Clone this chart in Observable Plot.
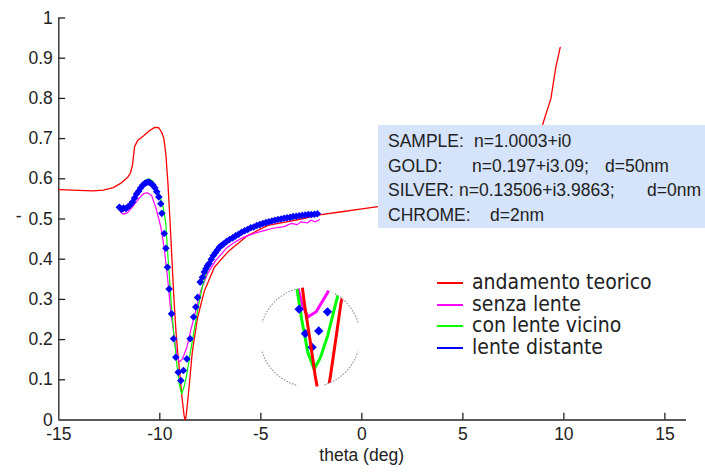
<!DOCTYPE html>
<html>
<head>
<meta charset="utf-8">
<script src="https://cdn.jsdelivr.net/npm/d3@7"></script>
<script src="https://cdn.jsdelivr.net/npm/@observablehq/plot@0.6"></script>
<style>
  body { margin: 0; background: #fff; }
  #wrap { position: relative; width: 705px; height: 474px; overflow: hidden;
          font-family: "Liberation Sans", Arial, sans-serif; color: #222; }
  #inset { position: absolute; left: 260px; top: 287px; width: 100px; height: 100px;
           clip-path: circle(50px at 50px 50px); }
  #ring { position: absolute; left: 0; top: 0; pointer-events: none; }
  #note { position: absolute; left: 378px; top: 125px; width: 327px; height: 103px;
          background: #d5e3fb; font-size: 17.5px; }
  #note .row { position: absolute; left: 0; height: 24px; line-height: 24px; white-space: nowrap; }
  #note span { position: absolute; top: 0; }
  #legend { position: absolute; left: 437px; top: 272px;
            font-family: "DejaVu Sans Condensed", "DejaVu Sans", sans-serif; font-stretch: condensed;
            font-size: 21px; color: #222; }
  #legend .item { position: relative; height: 21.7px; line-height: 21.7px; white-space: nowrap; }
  #legend .sw { position: absolute; left: 0; top: 10px; width: 26px; height: 2px; }
  #legend .lab { position: absolute; left: 35px; top: 0; }
</style>
</head>
<body>
<div id="wrap">
  <div id="chart"></div>
  <div id="inset"></div>
  <div id="note"></div>
  <div id="legend"></div>
</div>
<script>
// Reflectivity versus incidence angle (theta, degrees)
const theory = [
  [-15, 0.573], [-14, 0.571], [-13.3, 0.570], [-12.8, 0.572], [-12.3, 0.578],
  [-11.9, 0.590], [-11.6, 0.603], [-11.45, 0.615], [-11.35, 0.635], [-11.25, 0.680],
  [-11.1, 0.695], [-10.8, 0.707], [-10.5, 0.720], [-10.25, 0.728], [-10.05, 0.727],
  [-9.9, 0.715], [-9.8, 0.700], [-9.7, 0.660], [-9.6, 0.590], [-9.5, 0.500],
  [-9.4, 0.400], [-9.3, 0.300], [-9.2, 0.220], [-9.1, 0.160], [-9.0, 0.110],
  [-8.9, 0.055], [-8.8, 0.012], [-8.75, 0.000], [-8.7, 0.008], [-8.6, 0.056],
  [-8.5, 0.110], [-8.4, 0.165], [-8.3, 0.200], [-8.13, 0.255], [-7.8, 0.320],
  [-7.3, 0.380], [-6.6, 0.420], [-5.65, 0.459], [-4.65, 0.484], [-3.0, 0.500],
  [-2.1, 0.510], [-1.0, 0.518], [0, 0.525], [0.8, 0.531], [2, 0.540],
  [4, 0.560], [6, 0.595], [7.5, 0.640], [8.5, 0.690], [8.95, 0.735],
  [9.36, 0.800], [9.6, 0.877], [9.82, 0.927]
];

const withoutLens = [
  [-11.93, 0.517], [-11.8, 0.512], [-11.6, 0.516], [-11.4, 0.527], [-11.2, 0.540],
  [-11.0, 0.553], [-10.78, 0.564], [-10.6, 0.565], [-10.4, 0.558], [-10.2, 0.529],
  [-10.05, 0.500], [-9.95, 0.480], [-9.79, 0.430], [-9.62, 0.355], [-9.46, 0.272],
  [-9.29, 0.206], [-9.16, 0.165], [-9.04, 0.144], [-8.88, 0.152], [-8.66, 0.181],
  [-8.47, 0.223], [-8.22, 0.272], [-7.97, 0.322], [-7.64, 0.364], [-7.23, 0.397],
  [-6.65, 0.430], [-6.2, 0.445], [-5.83, 0.455], [-5.3, 0.465], [-4.84, 0.471],
  [-4.4, 0.477], [-3.85, 0.481], [-3.5, 0.489], [-3.2, 0.486], [-3.0, 0.493],
  [-2.7, 0.490], [-2.52, 0.497], [-2.3, 0.493], [-2.1, 0.498]
];

const nearLens = [
  [-11.95, 0.528], [-11.7, 0.527], [-11.5, 0.534], [-11.3, 0.548], [-11.1, 0.570],
  [-10.9, 0.588], [-10.7, 0.597], [-10.53, 0.600], [-10.35, 0.594], [-10.12, 0.575],
  [-9.98, 0.556], [-9.87, 0.538], [-9.78, 0.515], [-9.7, 0.488], [-9.62, 0.422],
  [-9.5, 0.339], [-9.41, 0.272], [-9.29, 0.206], [-9.16, 0.140], [-9.04, 0.090],
  [-8.92, 0.065], [-8.8, 0.082], [-8.66, 0.115], [-8.5, 0.165], [-8.3, 0.223],
  [-8.1, 0.281], [-7.9, 0.330], [-7.7, 0.365], [-7.4, 0.398], [-7.0, 0.426],
  [-6.5, 0.446], [-6.0, 0.462], [-5.5, 0.474], [-5.0, 0.484], [-4.5, 0.492],
  [-4.0, 0.498], [-3.5, 0.503], [-3.0, 0.507], [-2.5, 0.511], [-2.2, 0.514]
];

const distantLens = [
  [-12.0, 0.529], [-11.9, 0.524], [-11.8, 0.527], [-11.68, 0.526], [-11.58, 0.530],
  [-11.47, 0.535], [-11.35, 0.542], [-11.25, 0.552], [-11.15, 0.562], [-11.05, 0.569],
  [-10.95, 0.577], [-10.85, 0.584], [-10.75, 0.588], [-10.65, 0.591], [-10.55, 0.592],
  [-10.45, 0.589], [-10.35, 0.585], [-10.25, 0.578], [-10.15, 0.568], [-10.05, 0.555],
  [-9.95, 0.538], [-9.9, 0.514], [-9.78, 0.464], [-9.7, 0.427], [-9.62, 0.380],
  [-9.54, 0.326], [-9.42, 0.264], [-9.32, 0.202], [-9.21, 0.156], [-9.09, 0.119],
  [-8.96, 0.098], [-8.83, 0.123], [-8.66, 0.152], [-8.5, 0.202], [-8.33, 0.256],
  [-8.22, 0.281], [-8.13, 0.305], [-8.0, 0.343], [-7.89, 0.355], [-7.8, 0.368],
  [-7.72, 0.376], [-7.64, 0.384], [-7.56, 0.389], [-7.45, 0.400], [-7.35, 0.409],
  [-7.25, 0.416], [-7.15, 0.423], [-7.05, 0.430], [-6.95, 0.434], [-6.85, 0.438],
  [-6.7, 0.444], [-6.55, 0.449], [-6.4, 0.453], [-6.25, 0.458], [-6.1, 0.462],
  [-5.95, 0.467], [-5.8, 0.471], [-5.65, 0.474], [-5.5, 0.478], [-5.35, 0.480],
  [-5.2, 0.484], [-5.05, 0.486], [-4.9, 0.489], [-4.75, 0.491], [-4.6, 0.493],
  [-4.45, 0.495], [-4.3, 0.497], [-4.15, 0.499], [-4.0, 0.500], [-3.85, 0.502],
  [-3.7, 0.503], [-3.55, 0.504], [-3.4, 0.506], [-3.25, 0.507], [-3.1, 0.508],
  [-2.95, 0.509], [-2.8, 0.510], [-2.65, 0.511], [-2.5, 0.511], [-2.35, 0.512],
  [-2.2, 0.513]
];

const seriesNames = ["andamento teorico", "senza lente", "con lente vicino", "lente distante"];
const seriesColors = ["#ff0000", "#ff00ff", "#00ff00", "#0000ff"];

const xTicks = [-15, -10, -5, 0, 5, 10, 15];
const yTicks = [0, 0.1, 0.2, 0.3, 0.4, 0.5, 0.6, 0.7, 0.8, 0.9, 1];
const xLabel = "theta (deg)";
const yLabel = "-";

const noteLabels = ["SAMPLE:", "GOLD:", "SILVER:", "CHROME:"];
const noteIndex = ["n=1.0003+i0", "n=0.197+i3.09;", "n=0.13506+i3.9863;", ""];
const noteThickness = ["", "d=50nm", "d=0nm", "d=2nm"];

const rows = (pts) => pts.map(([theta, r]) => ({theta, r}));
const [cTheory, cWithout, cNear, cDistant] = seriesColors;
const axisColor = "#222";

const chart = Plot.plot({
  width: 705,
  height: 474,
  marginLeft: 58.3,
  marginRight: 19,
  marginTop: 17.5,
  marginBottom: 54.5,
  x: {domain: [-15, 16.07]},
  y: {domain: [0, 1]},
  style: {fontFamily: "'Liberation Sans', Arial, sans-serif", fontSize: "17.5px", color: axisColor, background: "white"},
  marks: [
    Plot.ruleY([0], {x1: -15, x2: 16.07, stroke: axisColor, strokeWidth: 1.3}),
    Plot.ruleX([-15], {y1: 0, y2: 1, stroke: axisColor, strokeWidth: 1.3}),
    Plot.ruleX(xTicks.filter(d => d > -15), {y1: 0, y2: 0.017, stroke: axisColor, strokeWidth: 1.3}),
    Plot.ruleY(yTicks.filter(d => d > 0), {x1: -15, x2: -14.66, stroke: axisColor, strokeWidth: 1.3}),
    Plot.axisX({ticks: xTicks, tickSize: 0, tickPadding: 8, tickFormat: d => String(d), label: null}),
    Plot.axisY({ticks: yTicks, tickSize: 0, tickPadding: 6, tickFormat: d => String(d), label: null}),
    Plot.line(rows(theory), {x: "theta", y: "r", stroke: cTheory, strokeWidth: 1.3}),
    Plot.line(rows(withoutLens), {x: "theta", y: "r", stroke: cWithout, strokeWidth: 1.2}),
    Plot.line(rows(nearLens), {x: "theta", y: "r", stroke: cNear, strokeWidth: 1.2}),
    Plot.dot(rows(distantLens), {x: "theta", y: "r", symbol: "diamond2", r: 3.4, fill: cDistant, stroke: "none"}),
    Plot.text([xLabel], {frameAnchor: "bottom", dx: -11, dy: 41, fill: axisColor}),
    Plot.text([yLabel], {frameAnchor: "left", dx: -43, dy: -3, fill: axisColor})
  ]
});
document.getElementById("chart").append(chart);

// Magnified view of the resonance minimum, shown inside a circle
const inset = Plot.plot({
  width: 100,
  height: 100,
  margin: 0,
  x: {domain: [-9.96, -8.02], axis: null},
  y: {domain: [0.037, 0.189], axis: null},
  style: {background: "transparent"},
  marks: [
    Plot.line(rows(withoutLens), {x: "theta", y: "r", stroke: cWithout, strokeWidth: 3}),
    Plot.line(rows(nearLens), {x: "theta", y: "r", stroke: cNear, strokeWidth: 3}),
    Plot.dot(rows(distantLens), {x: "theta", y: "r", symbol: "diamond2", r: 4.2, fill: cDistant, stroke: "none"}),
    Plot.line(rows(theory), {x: "theta", y: "r", stroke: cTheory, strokeWidth: 3})
  ]
});
document.getElementById("inset").append(inset);

// Dotted outline of the magnifier, broken at its four sides
const ring = d3.create("svg").attr("id", "ring").attr("width", 705).attr("height", 474);
const cx = 310, cy = 337, rad = 50;
const arcSpans = [[17, 62], [107, 163], [197, 255], [287, 343]];
const rp = d3.path();
for (const [a0, a1] of arcSpans) {
  const t0 = a0 * Math.PI / 180, t1 = a1 * Math.PI / 180;
  rp.moveTo(cx + rad * Math.cos(t0), cy - rad * Math.sin(t0));
  rp.arc(cx, cy, rad, -t0, -t1, true);
}
ring.append("path").attr("d", rp.toString()).attr("fill", "none")
  .attr("stroke", "#9a9a9a").attr("stroke-width", 1.2).attr("stroke-dasharray", "1.6 1.4");
document.getElementById("wrap").append(ring.node());

// Material parameters box
const note = d3.select("#note");
const rowTop = i => 4 + i * 24.7;
const indexLeft = [96, 94, 81, 0];
const thickLeft = [0, 227, 269, 112];
noteLabels.forEach((label, i) => {
  const row = note.append("div").attr("class", "row").style("top", rowTop(i) + "px");
  row.append("span").style("left", "10px").text(label);
  if (noteIndex[i]) row.append("span").style("left", indexLeft[i] + "px").text(noteIndex[i]);
  if (noteThickness[i]) row.append("span").style("left", thickLeft[i] + "px").text(noteThickness[i]);
});

// Legend
const legend = d3.select("#legend");
seriesNames.forEach((name, i) => {
  const item = legend.append("div").attr("class", "item");
  item.append("div").attr("class", "sw").style("background", seriesColors[i]);
  item.append("div").attr("class", "lab").text(name);
});
</script>
</body>
</html>
